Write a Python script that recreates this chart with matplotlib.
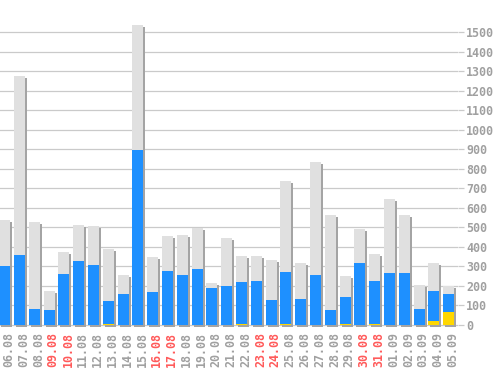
import matplotlib
matplotlib.use("Agg")
import matplotlib.pyplot as plt
import matplotlib.patheffects as pe
import numpy as np

# 날짜별 값 (전체 / 파랑 / 노랑)
dates = ["06.08", "07.08", "08.08", "09.08", "10.08", "11.08", "12.08", "13.08",
         "14.08", "15.08", "16.08", "17.08", "18.08", "19.08", "20.08", "21.08",
         "22.08", "23.08", "24.08", "25.08", "26.08", "27.08", "28.08", "29.08",
         "30.08", "31.08", "01.09", "02.09", "03.09", "04.09", "05.09"]
weekend = ["09.08", "10.08", "16.08", "17.08", "23.08", "24.08", "30.08", "31.08"]
total = [538, 1276, 528, 174, 374, 513, 507, 390, 256, 1538, 349, 456, 461, 499, 215, 446,
         354, 354, 333, 738, 318, 835, 564, 251, 492, 364, 646, 564, 205, 318, 200]
blue = [304, 359, 82, 77, 261, 328, 308, 123, 159, 897, 169, 277, 256, 287, 190, 200,
        220, 225, 128, 272, 133, 256, 77, 144, 318, 225, 267, 267, 82, 174, 159]
yellow = [0, 0, 0, 0, 0, 0, 0, 6, 0, 0, 0, 0, 0, 0, 0, 0,
          6, 0, 0, 6, 0, 0, 0, 7, 0, 6, 0, 0, 0, 21, 67]
yticks = list(range(0, 1600, 100))

GRAY_TXT = "#a0a0a0"
RED_TXT = "#ff5a5a"
FONT = dict(family="DejaVu Sans Mono", weight="bold", size=8.4)

W, H = 498, 370
fig = plt.figure(figsize=(W / 100, H / 100), dpi=100)
fig.patch.set_facecolor("white")
ax = fig.add_axes([0, 1 - 328 / H, 458 / W, 328 / H])

x = np.arange(len(dates))
bw = 0.74
shadow = [pe.SimplePatchShadow(offset=(1.45, -1.45), shadow_rgbFace="#a4a4a4", alpha=1.0),
          pe.Normal()]
bars = ax.bar(x, total, width=bw, color="#e0e0e0", zorder=2)
for b in bars:
    b.set_path_effects(shadow)
    b.set_clip_on(False)
ax.bar(x, blue, width=bw, color="#1e90ff", zorder=3)
ax.bar(x, yellow, width=bw, color="#ffd700", zorder=4)

ax.set_xlim(-0.318, 30.63)
ax.set_ylim(-15.4, 1666)

ax.yaxis.tick_right()
ax.set_yticks(yticks)
ax.set_yticklabels([str(v) for v in yticks])
ax.grid(axis="y", color="#cacaca", linewidth=0.9, zorder=0)
ax.tick_params(axis="y", length=4, width=0.9, color="#cacaca", pad=2,
               labelcolor=GRAY_TXT)
ax.set_xticks(x + 0.28)
ax.set_xticklabels(dates, rotation=90, va="top", ha="center")
ax.tick_params(axis="x", length=0, pad=3)
for lbl in ax.get_xticklabels() + ax.get_yticklabels():
    lbl.set_fontproperties(matplotlib.font_manager.FontProperties(**FONT))
for lbl in ax.get_xticklabels():
    lbl.set_color(RED_TXT if lbl.get_text() in weekend else GRAY_TXT)

for s in ax.spines.values():
    s.set_visible(False)
ax.set_facecolor("white")

fig.savefig("out.png", dpi=100)
